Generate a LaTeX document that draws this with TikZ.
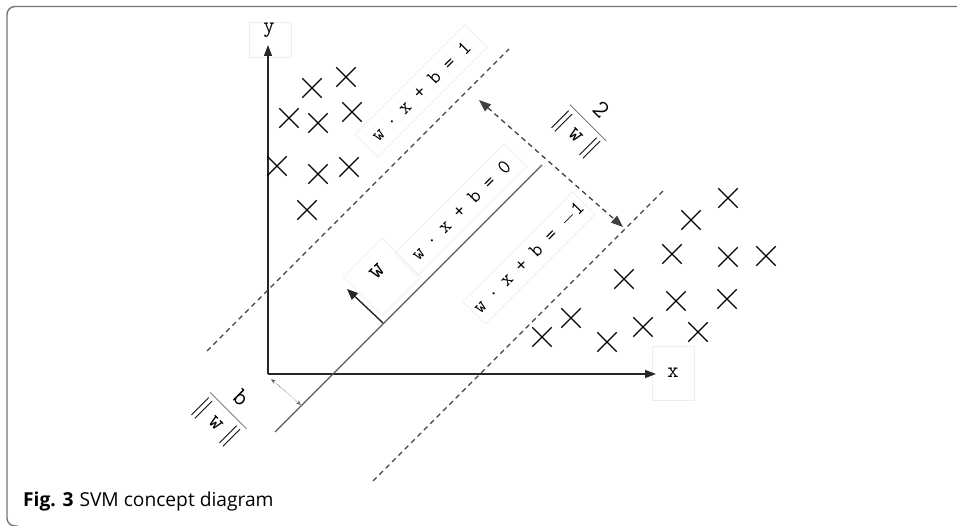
\documentclass[tikz,border=0pt]{standalone}
\usepackage{fontspec}
\newfontfamily\capfont{Open Sans}
\newcommand\eqnsize{\ttfamily\fontsize{20.5}{24}\selectfont}
\newcommand\axsize{\ttfamily\fontsize{22}{26}\selectfont}
\newcommand\wsize{\ttfamily\fontsize{27}{30}\selectfont}
\newcommand\fracsize{\ttfamily\fontsize{25}{30}\selectfont}
\newcommand\capsize{\capfont\fontsize{19.2}{23}\selectfont}
\usetikzlibrary{arrows.meta, shapes.misc}
\tikzset{
  frame/.style={draw=black!55,line width=1.4pt,rounded corners=8pt},
  axis/.style={draw=black!85,line width=1.4pt,-{Triangle[length=11pt,width=8pt]}},
  hyper/.style={draw=black!65,line width=1.2pt},
  margin/.style={draw=black!75,line width=1.3pt,dash pattern=on 5pt off 4pt},
  gap/.style={margin,{Triangle[length=12pt,width=9pt]}-{Triangle[length=12pt,width=9pt]}},
  normal/.style={draw=black!85,line width=1.4pt,-{Triangle[length=11pt,width=9pt]}},
  offset/.style={draw=black!60,line width=0.6pt,densely dotted,{Stealth[length=5pt,width=4pt]}-{Stealth[length=5pt,width=4pt]}},
  xmark/.style={cross out,draw=black,line width=1.3pt,minimum size=18pt,inner sep=0pt},
  lbl/.style={draw=black!7,line width=0.6pt,font=\eqnsize,inner sep=0pt},
  axlbl/.style={lbl,font=\axsize},
  eqn/.style={lbl,rotate=45,minimum width=155pt,minimum height=32pt},
  frac/.style={lbl,draw=none,rotate=-45,font=\fracsize}
}

\begin{document}
\begin{tikzpicture}[x=1pt,y=-1pt]
\useasboundingbox (0,0) rectangle (957,526);
\draw[frame] (957,6.5) -- (7,6.5) -- (7,526) -- (18,526);

% axes
\coordinate (o) at (268,374);
\node[axlbl,minimum width=42pt,minimum height=35pt] (ylab) at (270,40) {};
\node[axlbl,draw=none] at (269,30) {y};
\node[axlbl,minimum width=42pt,minimum height=54pt] (xlab) at (673,373) {x};
\coordinate (ytip) at (268,45);
\coordinate (xtip) at (656,374);
\draw[axis] (o) -- (ytip);
\draw[axis] (o) -- (xtip);

% hyperplanes
\coordinate (h0a) at (275,432);
\coordinate (h0b) at (542,165);
\coordinate (h1a) at (207,351);
\coordinate (h1b) at (509,49);
\coordinate (h2a) at (373,481);
\coordinate (h2b) at (664,190);
\draw[hyper] (h0a) -- (h0b);
\draw[margin] (h1a) -- (h1b);
\draw[margin] (h2a) -- (h2b);

% margin, normal vector and offset
\coordinate (ma) at (479,100);
\coordinate (mb) at (623,227);
\draw[gap] (ma) -- (mb);
\coordinate (wa) at (383,323);
\coordinate (wb) at (347,289);
\draw[normal] (wa) -- (wb);
\coordinate (ba) at (271,379);
\coordinate (bb) at (301,405);
\draw[offset] (ba) -- (bb);

% labels
\node[eqn] (eq1) at (421,91) {w $\cdot$ x + b = 1};
\node[eqn] (eq0) at (461,210) {w $\cdot$ x + b = 0};
\node[eqn] (eqm) at (529,258) {w $\cdot$ x + b = $-$1};
\node[lbl,rotate=45,minimum width=55pt,minimum height=55pt] (wbox) at (382,277) {};
\node[lbl,draw=none,rotate=45,font=\wsize] (wlab) at (377,272) {w};
\node[frac] (mlab) at (587,124) {$\displaystyle\frac{\texttt{2}}{\|\;\texttt{w}\;\|}$};
\node[frac] (blab) at (227,412) {$\displaystyle\frac{\texttt{b}}{\|\;\texttt{w}\;\|}$};

% class +1
\foreach \px/\py [count=\i] in {312/88,346/77,289/118,318/123,352/112,277/166,318/174,349/167,307/210}
  \node[xmark] (pa\i) at (\px,\py) {};
% class -1
\foreach \px/\py [count=\i] in {728/198,691/220,672/254,728/257,766/256,624/279,676/301,727/299,571/318,643/327,542/337,607/342,698/332}
  \node[xmark] (pb\i) at (\px,\py) {};

% caption
\node[anchor=base west,font=\capsize,inner sep=0pt] (cap) at (23,506) {\textbf{Fig. 3}\hspace{6pt}SVM concept diagram};
\end{tikzpicture}
\end{document}
